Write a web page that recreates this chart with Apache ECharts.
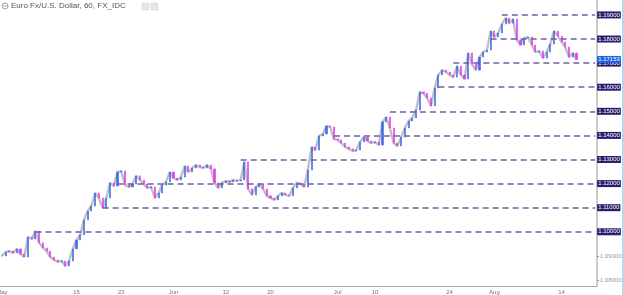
<!DOCTYPE html>
<html>
<head>
<meta charset="utf-8">
<script src="https://cdn.jsdelivr.net/npm/echarts@6/dist/echarts.min.js"></script>
<style>
  html, body { margin: 0; padding: 0; background: #fff; }
  #main { width: 624px; height: 295px; }
</style>
</head>
<body>
<div id="main"></div>
<script>
// EUR/USD at two points per trading day (May 1 -> Aug 16)
var closes = [
  1.0900, 1.0916, 1.0920, 1.0912, 1.0929, 1.0908, 1.0895, 1.0978, 1.0970, 1.1003,
  1.0954, 1.0933, 1.0920, 1.0895, 1.0883, 1.0875, 1.0879, 1.0858, 1.0879, 1.0929,
  1.0966, 1.0987, 1.1049, 1.1086, 1.1107, 1.1161, 1.1140, 1.1099, 1.1140, 1.1203,
  1.1190, 1.1248, 1.1252, 1.1194, 1.1186, 1.1198, 1.1232, 1.1215, 1.1198, 1.1182,
  1.1186, 1.1140, 1.1161, 1.1194, 1.1207, 1.1248, 1.1223, 1.1215, 1.1227, 1.1273,
  1.1248, 1.1265, 1.1277, 1.1269, 1.1265, 1.1277, 1.1261, 1.1203, 1.1182, 1.1203,
  1.1211, 1.1207, 1.1215, 1.1211, 1.1215, 1.1290, 1.1178, 1.1153, 1.1186, 1.1198,
  1.1178, 1.1149, 1.1140, 1.1132, 1.1149, 1.1161, 1.1153, 1.1149, 1.1182, 1.1203,
  1.1198, 1.1186, 1.1256, 1.1352, 1.1339, 1.1398, 1.1406, 1.1439, 1.1435, 1.1385,
  1.1381, 1.1368, 1.1352, 1.1344, 1.1335, 1.1339, 1.1373, 1.1393, 1.1377, 1.1368,
  1.1373, 1.1360, 1.1456, 1.1476, 1.1431, 1.1368, 1.1356, 1.1393, 1.1431, 1.1460,
  1.1472, 1.1505, 1.1580, 1.1575, 1.1555, 1.1522, 1.1597, 1.1651, 1.1671, 1.1663,
  1.1651, 1.1642, 1.1688, 1.1651, 1.1634, 1.1742, 1.1696, 1.1671, 1.1725, 1.1746,
  1.1754, 1.1833, 1.1808, 1.1825, 1.1862, 1.1887, 1.1866, 1.1883, 1.1796, 1.1775,
  1.1804, 1.1808, 1.1775, 1.1746, 1.1750, 1.1721, 1.1746, 1.1779, 1.1833, 1.1812,
  1.1788, 1.1767, 1.1725, 1.1742, 1.1715
];
var slotCount = 160;   // half-day slots shown on the axis (a few empty at the right)
var tickIdx = [0, 20, 32, 46, 60, 72, 90, 100, 120, 132, 150];
var tickLabels = ['May', '15', '23', 'Jun', '12', '20', 'Jul', '10', '24', 'Aug', '14'];
var priceLevels = [1.10, 1.11, 1.12, 1.13, 1.14, 1.15, 1.16, 1.17, 1.18, 1.19];
var levelStartIdx = [9, 27, 31, 64, 89, 104, 117, 121, 131, 134];
var plainYLabels = [1.08, 1.09];
var lastPrice = 1.17153;

var cats = [];
for (var i = 0; i < slotCount; i++) cats.push(String(i));

// open = previous close, so the candles join up like the hourly bars do
var ohlc = closes.map(function (c, i) {
  var o = i === 0 ? c : closes[i - 1];
  return [o, c, Math.min(o, c), Math.max(o, c)];
});

var levelLines = priceLevels.map(function (v, k) {
  return [
    { name: v.toFixed(5), coord: [levelStartIdx[k], v] },
    { coord: [slotCount - 1, v] }
  ];
});
levelLines.push([
  { name: lastPrice.toFixed(5),
    coord: [closes.length - 1, lastPrice],
    lineStyle: { color: 'rgba(0,0,0,0)' },
    label: { backgroundColor: '#1e64e6', borderColor: '#1e64e6' } },
  { coord: [slotCount - 1, lastPrice] }
]);

var myChart = echarts.init(document.getElementById('main'));
var option = {
  animation: false,
  title: {
    text: 'Euro Fx/U.S. Dollar, 60, FX_IDC',
    left: 11, top: 2, padding: 0,
    textStyle: { fontFamily: 'Liberation Sans', fontSize: 8, fontWeight: 'normal', color: '#555' }
  },
  grid: { left: 0, right: 27, top: 0, bottom: 9, outerBoundsMode: 'none' },
  xAxis: {
    type: 'category',
    data: cats,
    axisLine: { lineStyle: { color: '#aaa', width: 1 } },
    axisTick: {
      alignWithLabel: true, length: 2,
      interval: function (idx) { return tickIdx.indexOf(idx) >= 0; },
      lineStyle: { color: '#999' }
    },
    axisLabel: {
      interval: function (idx) { return tickIdx.indexOf(idx) >= 0; },
      formatter: function (v) { return tickLabels[tickIdx.indexOf(Number(v))]; },
      fontFamily: 'Liberation Sans', fontSize: 6, color: '#777', margin: 3
    },
    splitLine: { show: false }
  },
  yAxis: {
    type: 'value',
    position: 'right',
    min: 1.0775,
    max: 1.1962,
    axisLine: { show: true, lineStyle: { color: '#bbb', width: 1.5 } },
    axisTick: { show: true, customValues: plainYLabels, length: 2, lineStyle: { color: '#999' } },
    axisLabel: {
      customValues: plainYLabels,
      formatter: function (v) { return v.toFixed(5); },
      fontFamily: 'Liberation Sans', fontSize: 6, color: '#999', margin: 3
    },
    splitLine: { show: false }
  },
  graphic: [
    { type: 'circle', shape: { cx: 5, cy: 6, r: 3 }, style: { fill: 'none', stroke: '#888', lineWidth: 0.8 } },
    { type: 'line', shape: { x1: 3.3, y1: 6, x2: 6.7, y2: 6 }, style: { stroke: '#888', lineWidth: 0.8 } },
    { type: 'rect', shape: { x: 142, y: 3, width: 7, height: 7 }, style: { fill: '#e6e6e6', stroke: '#d0d0d0', lineWidth: 0.5 } },
    { type: 'rect', shape: { x: 151, y: 3, width: 7, height: 7 }, style: { fill: '#e6e6e6', stroke: '#d0d0d0', lineWidth: 0.5 } },
    { type: 'rect', shape: { x: 622, y: 0, width: 2, height: 295 }, style: { fill: '#b9d7ee' } }
  ],
  series: [
    {
      type: 'line',
      data: closes,
      showSymbol: false,
      silent: true,
      z: 1,
      lineStyle: { color: '#8c8c8c', width: 2.4, opacity: 0.55 }
    },
    {
      type: 'candlestick',
      data: ohlc,
      barWidth: 1.6,
      z: 2,
      itemStyle: {
        color: '#3e6ee8', color0: '#e33cf0',
        borderColor: '#3e6ee8', borderColor0: '#e33cf0',
        borderWidth: 0.6
      },
      markLine: {
        silent: true,
        symbol: ['none', 'none'],
        lineStyle: { color: '#6f5fa6', type: [6, 4], width: 1.6 },
        label: {
          show: true,
          position: 'end',
          distance: 2,
          formatter: '{b}',
          color: '#fff',
          fontFamily: 'Liberation Sans',
          fontSize: 6,
          backgroundColor: '#2c1d6c',
          borderColor: '#2c1d6c',
          padding: [1, 1, 0, 1]
        },
        data: levelLines
      }
    }
  ]
};
option && myChart.setOption(option);
</script>
</body>
</html>
